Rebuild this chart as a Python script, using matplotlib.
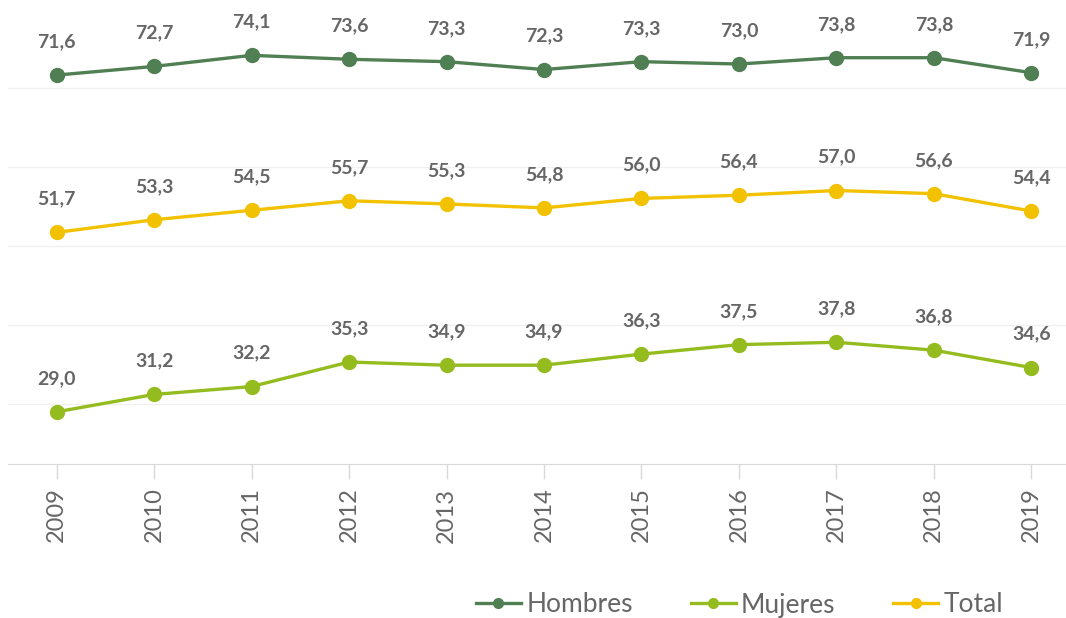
import matplotlib
matplotlib.use("Agg")
import matplotlib.pyplot as plt

years = [2009, 2010, 2011, 2012, 2013, 2014, 2015, 2016, 2017, 2018, 2019]
hombres = [71.6, 72.7, 74.1, 73.6, 73.3, 72.3, 73.3, 73.0, 73.8, 73.8, 71.9]
mujeres = [29.0, 31.2, 32.2, 35.3, 34.9, 34.9, 36.3, 37.5, 37.8, 36.8, 34.6]
total = [51.7, 53.3, 54.5, 55.7, 55.3, 54.8, 56.0, 56.4, 57.0, 56.6, 54.4]

C_HOM, C_MUJ, C_TOT = "#4f7f52", "#95bc1f", "#f2c200"
TEXT = "#666666"
GRID = "#f0f0f0"
AXIS = "#d9d9d9"

plt.rcParams["font.family"] = ["Lato", "DejaVu Sans"]

fig = plt.figure(figsize=(10.66, 6.18), dpi=100)
ax = fig.add_axes([8 / 1066, (618 - 464) / 618, (1080 - 8) / 1066, 464 / 618])

series = [("Hombres", hombres, C_HOM), ("Mujeres", mujeres, C_MUJ), ("Total", total, C_TOT)]
for name, vals, col in series:
    ax.plot(years, vals, color=col, lw=2.4, marker="o", ms=10, label=name, zorder=3)
    for x, v in zip(years, vals):
        ax.annotate(f"{v:.1f}".replace(".", ","), (x, v), textcoords="offset points",
                    xytext=(0, 24), ha="center", va="center", fontsize=14,
                    fontweight="bold", color=TEXT)

ax.set_xlim(2008.5, 2019.5)
ax.set_ylim(22.4, 81.1)
ax.set_yticks([30, 40, 50, 60, 70])
ax.yaxis.grid(True, color=GRID, lw=1)
ax.tick_params(axis="y", left=False, labelleft=False)
ax.set_xticks(years)
ax.set_xticklabels([str(y) for y in years], rotation=90, fontsize=17, color=TEXT)
ax.tick_params(axis="x", length=11, color=AXIS, width=1, pad=6)
for s in ["top", "right", "left"]:
    ax.spines[s].set_visible(False)
ax.spines["bottom"].set_color(AXIS)
ax.set_axisbelow(True)

fig.legend(loc="center left", bbox_to_anchor=(476 / 1066, 1 - 605 / 618), ncol=3,
           frameon=False, fontsize=19, labelcolor=TEXT, handlelength=1.7,
           handletextpad=0.2, columnspacing=2.2, markerscale=0.7, borderaxespad=0,
           borderpad=0)

fig.savefig("out.png", dpi=100)
